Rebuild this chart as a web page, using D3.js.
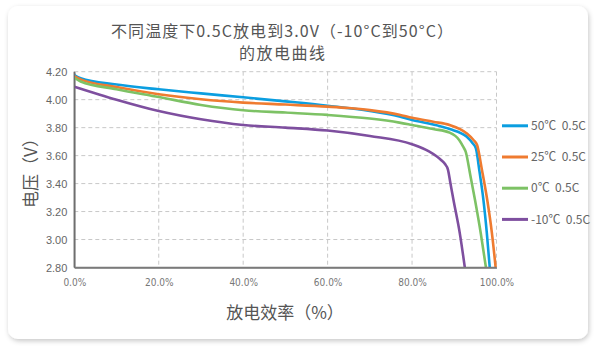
<!DOCTYPE html>
<html><head><meta charset="utf-8">
<script src="https://cdn.jsdelivr.net/npm/d3@7/dist/d3.min.js"></script>
<style>html,body{margin:0;padding:0;background:#fff;}svg{display:block;}</style>
</head><body>
<svg id="chart" width="596" height="349"></svg>
<script>
// ---- data ----
const titleLines = ["不同温度下0.5C放电到3.0V（-10°C到50°C）", "的放电曲线"];
const yTitle = "电压（V）";
const xTitle = "放电效率（%）";
const xTicks = [0, 20, 40, 60, 80, 100];
const yTicks = [2.8, 3.0, 3.2, 3.4, 3.6, 3.8, 4.0, 4.2];
const seriesNames = ["50℃  0.5C", "25℃  0.5C", "0℃  0.5C", "-10℃  0.5C"];
const seriesColors = ["#0b9ee0", "#ef7b30", "#7dc265", "#7e4f9f"];

const pct50 = [0, 1.5, 10, 20, 30, 40, 50, 60, 70, 77, 80, 85, 88.9, 92.9, 94.3, 95.1, 96.0, 96.9, 97.7, 98.4];
const volt50 = [4.176, 4.153, 4.108, 4.074, 4.045, 4.017, 3.988, 3.957, 3.92, 3.88, 3.855, 3.823, 3.79, 3.736, 3.69, 3.653, 3.48, 3.284, 3.05, 2.80];

const pct25 = [0, 1.5, 10, 20, 30, 40, 50, 60, 65, 70, 77, 80, 85, 88.9, 92.9, 94.6, 95.4, 96.6, 97.8, 98.9, 99.8];
const volt25 = [4.169, 4.145, 4.09, 4.039, 4.003, 3.979, 3.965, 3.95, 3.94, 3.925, 3.892, 3.87, 3.842, 3.819, 3.76, 3.71, 3.676, 3.49, 3.284, 3.05, 2.80];

const pct0 = [0, 1.5, 10, 20, 30, 40, 50, 60, 70, 77, 80, 85, 88.9, 91.2, 92.1, 92.7, 93.8, 94.9, 96.3, 97.5];
const volt0 = [4.157, 4.13, 4.075, 4.019, 3.962, 3.924, 3.908, 3.891, 3.865, 3.836, 3.819, 3.79, 3.764, 3.71, 3.664, 3.629, 3.46, 3.284, 3.04, 2.80];

const pctM10 = [0, 10, 20, 30, 40, 50, 60, 70, 80, 84, 85.8, 87.0, 87.8, 88.5, 89.1, 89.8, 91.3, 92.5];
const voltM10 = [4.093, 4.00, 3.919, 3.86, 3.819, 3.80, 3.779, 3.74, 3.681, 3.63, 3.595, 3.565, 3.54, 3.50, 3.40, 3.284, 3.046, 2.80];

const seriesPct = [pct50, pct25, pct0, pctM10];
const seriesVolt = [volt50, volt25, volt0, voltM10];

// ---- drawing ----
const svg = d3.select("#chart");
const defs = svg.append("defs");
const f = defs.append("filter").attr("id", "sh").attr("x", "-5%").attr("y", "-5%").attr("width", "110%").attr("height", "112%");
f.append("feDropShadow").attr("dx", 1).attr("dy", 2).attr("stdDeviation", 2.5).attr("flood-color", "#000").attr("flood-opacity", 0.22);

svg.append("rect").attr("x", 8).attr("y", 6).attr("width", 580).attr("height", 333)
  .attr("rx", 10).attr("fill", "#fff").attr("filter", "url(#sh)");

const x = d3.scaleLinear().domain([0, 100]).range([74.3, 496.5]);
const y = d3.scaleLinear().domain([2.8, 4.2]).range([267.5, 71.7]);

const cjk = "'Noto Sans CJK SC','Noto Sans',sans-serif";

// grid
const g = svg.append("g");
g.selectAll(".vg").data(xTicks.filter(d => d > 0)).enter().append("line")
  .attr("x1", d => x(d)).attr("x2", d => x(d)).attr("y1", y(4.2)).attr("y2", y(2.8))
  .attr("stroke", "#c8c8c8").attr("stroke-width", 1).attr("stroke-dasharray", "4,3");
g.selectAll(".hg").data(yTicks.filter(d => d > 2.8)).enter().append("line")
  .attr("x1", x(0)).attr("x2", x(100)).attr("y1", d => y(d)).attr("y2", d => y(d))
  .attr("stroke", "#c8c8c8").attr("stroke-width", 1).attr("stroke-dasharray", "4,3");

// axes
const yAxis = d3.axisLeft(y).tickValues(yTicks).tickSize(0).tickPadding(7).tickFormat(d3.format(".2f"));
const ya = svg.append("g").attr("transform", `translate(${x(0)},0)`).call(yAxis);
ya.select(".domain").attr("stroke", "#6e6e6e").attr("stroke-width", 1.5);
ya.selectAll("text").attr("fill", "#666").style("font-family", "'Liberation Sans',Arial,sans-serif").style("font-size", "11px");

const xAxis = d3.axisBottom(x).tickValues(xTicks).tickSize(0).tickPadding(11).tickFormat(d => d3.format(".1f")(d) + "%");
const xa = svg.append("g").attr("transform", `translate(0,${y(2.8)})`).call(xAxis);
xa.select(".domain").attr("stroke", "#7a7a7a").attr("stroke-width", 1.5);
xa.selectAll("text").attr("fill", "#777").style("font-family", "'Liberation Sans Narrow','DejaVu Sans Condensed',sans-serif").style("font-size", "10px");

// lines
const line = d3.line().x(d => x(d[0])).y(d => y(d[1])).curve(d3.curveMonotoneX);
svg.append("clipPath").attr("id", "clip").append("rect")
  .attr("x", x(0)).attr("y", y(4.2) - 5).attr("width", x(100) - x(0) + 3).attr("height", y(2.8) - y(4.2) + 5);
const lg = svg.append("g").attr("clip-path", "url(#clip)");
seriesNames.forEach((name, i) => {
  const pts = d3.zip(seriesPct[i], seriesVolt[i]);
  lg.append("path").datum(pts).attr("d", line).attr("fill", "none")
    .attr("stroke", seriesColors[i]).attr("stroke-width", 2.6).attr("stroke-linejoin", "round");
});
// axis lines on top
svg.append("line").attr("x1", x(0)).attr("x2", x(0)).attr("y1", y(4.2)).attr("y2", y(2.8)).attr("stroke", "#6e6e6e").attr("stroke-width", 1.5);
svg.append("line").attr("x1", x(0)).attr("x2", x(100)).attr("y1", y(2.8)).attr("y2", y(2.8)).attr("stroke", "#7a7a7a").attr("stroke-width", 1.5);

// legend
const leg = svg.append("g");
seriesNames.forEach((name, i) => {
  const cy = 125.8 + i * 31.2;
  leg.append("line").attr("x1", 502).attr("x2", 528).attr("y1", cy).attr("y2", cy)
    .attr("stroke", seriesColors[i]).attr("stroke-width", 3);
  leg.append("text").attr("x", 531).attr("y", cy).attr("dy", "0.35em")
    .attr("fill", "#666").style("font-family", cjk).style("font-size", "12px")
    .style("white-space", "pre").text(name);
});

// titles
svg.selectAll(".tt").data(titleLines).enter().append("text")
  .attr("x", 282).attr("y", (d, i) => 36.5 + i * 22).attr("text-anchor", "middle")
  .attr("fill", "#555").style("font-family", cjk).style("font-size", "16px")
  .attr("textLength", (d, i) => i === 0 ? 342 : 86).attr("lengthAdjust", "spacing")
  .text(d => d);

svg.append("text").attr("transform", "translate(31,169) rotate(-90)").attr("text-anchor", "middle")
  .attr("dy", "0.35em").attr("fill", "#555").style("font-family", cjk).style("font-size", "17px").text(yTitle);

svg.append("text").attr("x", 285).attr("y", 313).attr("dy", "0.35em").attr("text-anchor", "middle")
  .attr("fill", "#555").style("font-family", cjk).style("font-size", "17px").text(xTitle);
</script>
</body></html>
